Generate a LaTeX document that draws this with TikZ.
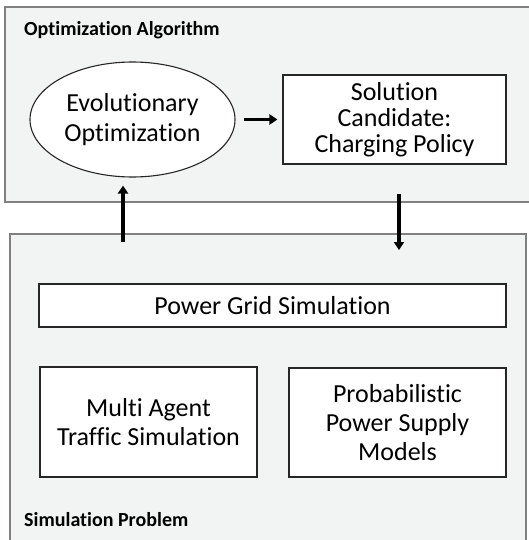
\documentclass[tikz,border=0pt]{standalone}
\usepackage{fontspec}
\setmainfont[Ligatures=NoCommon]{Carlito}
\usetikzlibrary{shapes.geometric, arrows.meta, positioning, calc}
\definecolor{panelgray}{RGB}{242, 244, 243}
\definecolor{framegray}{RGB}{128, 128, 128}

\begin{document}
\begin{tikzpicture}[
        x=1pt, y=-1pt,
        panel/.style={draw=framegray, fill=panelgray, line width=2.5pt},
        block/.style={rectangle, draw=black!85, fill=white, line width=1.1pt, align=center, inner sep=2pt, font=\fontsize{26}{29}\selectfont},
        evonode/.style={ellipse, draw=black!85, fill=white, line width=1.1pt, align=center, inner sep=0pt, minimum width=205pt, minimum height=115pt, font=\fontsize{26}{30}\selectfont},
        paneltitle/.style={anchor=base west, inner sep=0pt, font=\fontsize{20}{24}\selectfont\bfseries},
        arrow/.style={-{Triangle[length=8pt, width=10pt]}, line width=3.2pt, black}
    ]
        \useasboundingbox (0,0) rectangle (528,540);

        % Panels
        \draw [panel] (5,7) rectangle (545,202);
        \draw [panel] (10,234) rectangle (526,560);
        \node (opttitle) [paneltitle] at (24,36) {Optimization Algorithm};
        \node (simtitle) [paneltitle] at (24,526) {Simulation Problem};
        \coordinate (simtop) at (10,234);

        % Optimization part
        \node (evo) [evonode] at (132.5,119.5) {Evolutionary\\Optimization};
        \node (sol) [block, minimum width=223pt, minimum height=89pt, font=\fontsize{26}{26}\selectfont] at (394.5,119.5) {Solution\\Candidate:\\Charging Policy};

        % Simulation part
        \node (grid) [block, minimum width=467pt, minimum height=43pt] at (272.5,305.5) {Power Grid Simulation};
        \node (traffic) [block, minimum width=217pt, minimum height=110pt] at (148.5,422) {Multi Agent\\Traffic Simulation};
        \node (supply) [block, minimum width=217pt, minimum height=109pt] at (397.5,422.5) {Probabilistic\\Power Supply\\Models};

        % Connecting Arrows
        \draw [arrow] ([xshift=8pt]evo.east) -- ([xshift=-5pt]sol.west);
        \draw [arrow] ($(evo.south |- simtop)+(-9.5,8)$) -- ($(evo.south)+(-9.5,8)$);
        \draw [arrow] ($(sol.south)+(4.5,29)$) -- ($(sol.south |- simtop)+(4.5,16)$);
    \end{tikzpicture}
\end{document}
